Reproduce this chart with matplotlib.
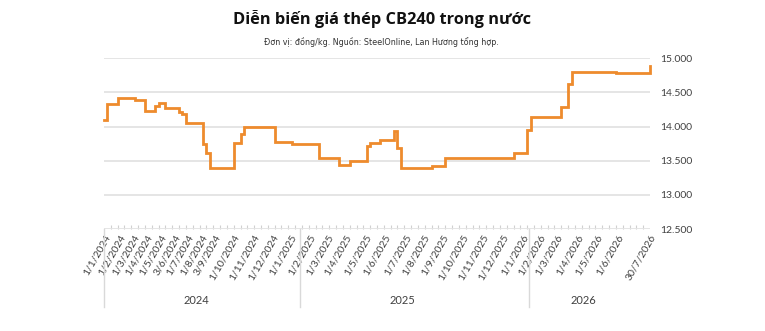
import matplotlib
matplotlib.use("Agg")
import matplotlib.pyplot as plt
from matplotlib.ticker import FuncFormatter, MultipleLocator
import matplotlib.transforms as mtransforms

# ---- data (category index along the category axis, price in dong/kg) ----
step_start = [0, 1, 4, 9, 12, 15, 16, 18, 22, 23, 24, 29, 30, 31, 38, 40, 41,
              50, 55, 63, 69, 72, 77, 78, 81, 85, 86, 87, 96, 100, 120, 124,
              125, 134, 136, 137, 150, 160]
step_price = [14100, 14330, 14420, 14390, 14230, 14300, 14340, 14270, 14220,
              14190, 14050, 13740, 13610, 13400, 13760, 13890, 14000, 13780,
              13740, 13540, 13430, 13500, 13710, 13760, 13800, 13940, 13690,
              13400, 13420, 13540, 13610, 13950, 14140, 14280, 14630, 14800,
              14780, 14880]

tick_labels = ['1/1/2024', '1/2/2024', '1/3/2024', '1/4/2024', '1/5/2024',
               '3/6/2024', '1/7/2024', '1/8/2024', '3/9/2024', '1/10/2024',
               '1/11/2024', '1/12/2024', '1/1/2025', '1/2/2025', '1/3/2025',
               '1/4/2025', '1/5/2025', '1/6/2025', '1/7/2025', '1/8/2025',
               '1/9/2025', '1/10/2025', '1/11/2025', '1/12/2025', '1/1/2026',
               '1/2/2026', '1/3/2026', '1/4/2026', '1/5/2026', '1/6/2026',
               '30/7/2026']
tick_index = [0, 4.4, 8.5, 12.5, 16.4, 20.6, 24.5, 28.6, 32.4, 37.8, 43.7,
              49.2, 54.5, 60.3, 65.6, 70.6, 76.5, 82.3, 88.2, 93.5, 99.3,
              104.9, 110.8, 116.6, 122.5, 127.7, 132.7, 138.6, 144.4, 150.3,
              160]

years = ['2024', '2025', '2026']
year_edges = [0, 57.5, 124.5]

# ---- figure ----
W, H = 765, 331
fig = plt.figure(figsize=(W / 100, H / 100), dpi=100)
left, right, top, bottom = 104, 650, 58.3, 229
ax = fig.add_axes([left / W, 1 - bottom / H, (right - left) / W, (bottom - top) / H])

line_color = '#EE8B2D'
grid_color = '#E3E3E3'
text_color = '#404040'

ax.step(step_start, step_price, where='post', color=line_color, lw=2.0,
        solid_joinstyle='miter', zorder=3, clip_on=False)

ax.set_xlim(0, 160)
ax.set_ylim(12500, 15000)
ax.yaxis.set_major_locator(MultipleLocator(500))
ax.yaxis.set_major_formatter(FuncFormatter(lambda v, p: f"{v:,.0f}".replace(',', '.')))
ax.yaxis.tick_right()
ax.tick_params(axis='y', length=0, pad=7, labelsize=7.5, labelcolor=text_color)
for lab in ax.get_yticklabels():
    lab.set_fontfamily('Lato')
ax.grid(axis='y', color=grid_color, lw=1.3, zorder=0)
ax.set_axisbelow(True)
for s in ax.spines.values():
    s.set_visible(False)

ax.set_xticks(tick_index)
ax.set_xticklabels(tick_labels, rotation=60, ha='right', va='top',
                   rotation_mode='anchor', fontsize=7.5, color=text_color,
                   family='Lato')
ax.tick_params(axis='x', length=0, pad=3)
ax.xaxis.set_minor_locator(MultipleLocator(2))
ax.tick_params(axis='x', which='minor', length=3, direction='in', color='#D0D0D0', width=0.8)

# group separators and year labels
trans = mtransforms.blended_transform_factory(ax.transData, ax.transAxes)
depth = (307 - bottom) / (bottom - top)
for xe in year_edges:
    ax.plot([xe, xe], [0, -depth], transform=trans, color='#D9D9D9', lw=1.0,
            clip_on=False)
year_pos = [27, 87.5, 140.5]
for yp, yl in zip(year_pos, years):
    ax.text(yp, -(300 - bottom) / (bottom - top), yl, transform=trans,
            ha='center', va='center', fontsize=8, color=text_color, family='Lato')

# titles
fig.text(382 / W, 1 - 19 / H, 'Diễn biến giá thép CB240 trong nước',
         ha='center', va='center', fontsize=11.8, fontweight='bold',
         color='#111111', family='Open Sans')
fig.text(381 / W, 1 - 42 / H,
         'Đơn vị: đồng/kg. Nguồn: SteelOnline, Lan Hương tổng hợp.',
         ha='center', va='center', fontsize=5.8, color='#333333',
         family='DejaVu Sans')

fig.savefig('out.png', dpi=100, facecolor='white')
